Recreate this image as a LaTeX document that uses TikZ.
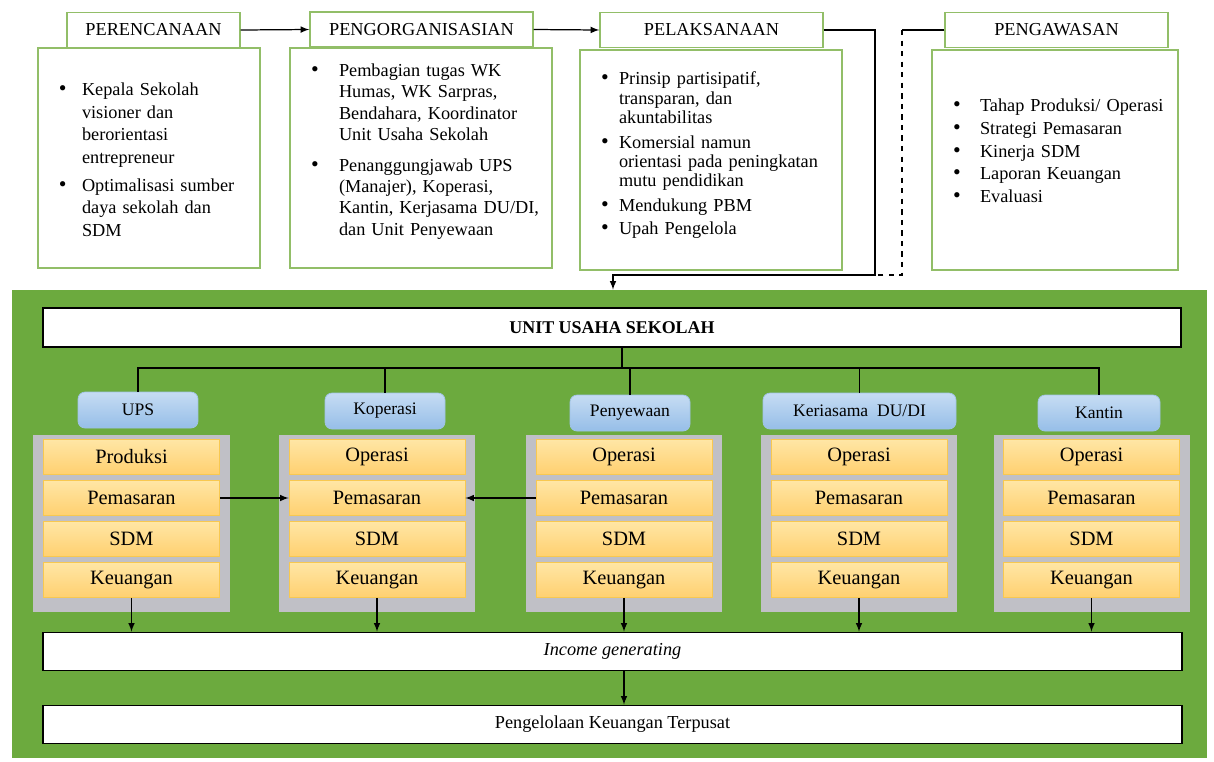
\documentclass[tikz,border=0pt]{standalone}
\usepackage{fontspec}
\setmainfont{Liberation Serif}

\definecolor{hijau}{RGB}{108,170,62}
\definecolor{garis}{RGB}{146,190,104}
\definecolor{biru1}{RGB}{198,220,243}
\definecolor{biru2}{RGB}{150,190,232}
\definecolor{birutepi}{RGB}{160,195,230}
\definecolor{abu}{RGB}{192,192,198}
\definecolor{jingga1}{RGB}{255,230,165}
\definecolor{jingga2}{RGB}{255,208,112}
\definecolor{jinggatepi}{RGB}{248,200,80}

% butir daftar: lebar kolom bullet, baris-baris teks
\newlength{\jarak}
\newcommand{\butir}[2][0.5cm]{\par\noindent\makebox[#1][l]{{\fontsize{12.5}{13}\selectfont\textbullet}}\begin{tabular}[t]{@{}l@{}}#2\end{tabular}\par\vspace{\jarak}}
% ruang kosong di bawah teks (menggeser teks ke atas)
\newcommand{\ganjal}[1]{\par\vspace{#1}\hrule height 0pt width 0pt}

\begin{document}
\begin{tikzpicture}[x=0.2mm,y=-0.2mm,
    judul/.style={draw=garis,line width=0.8pt,fill=white,minimum width=4.46cm,minimum height=0.7cm,inner sep=0pt,font=\fontsize{10.4}{12.8}\selectfont},
    isi/.style={draw=garis,line width=0.8pt,fill=white,minimum height=4.4cm,inner xsep=0.42cm},
    bidang/.style={draw,line width=1pt,fill=white,minimum width=22.78cm,minimum height=0.76cm,inner sep=0pt,font=\fontsize{10.4}{12.8}\selectfont},
    unit/.style={draw=birutepi,rounded corners=4pt,top color=biru1,bottom color=biru2,minimum width=2.4cm,minimum height=0.72cm,inner sep=0pt,font=\fontsize{10}{11}\selectfont},
    wadah/.style={fill=abu,minimum width=3.92cm,minimum height=3.54cm,inner sep=0pt},
    sel/.style={draw=jinggatepi,top color=jingga1,bottom color=jingga2,minimum width=3.52cm,minimum height=0.7cm,inner sep=0pt,font=\fontsize{11.6}{13}\selectfont},
    garis hitam/.style={line width=0.7pt},
    panah/.style={-latex,line width=0.7pt},
  ]
  \useasboundingbox (0,0) rectangle (1214,761);

  % fungsi manajemen
  \node[isi,minimum width=4.44cm,text width=3.6cm,font=\fontsize{10.4}{13}\selectfont] (rencana) at (149,158)
    {\setlength{\jarak}{1.5pt}\butir[0.46cm]{Kepala Sekolah\\visioner dan\\berorientasi\\entrepreneur}\butir[0.46cm]{Optimalisasi sumber\\daya sekolah dan\\SDM}};
  \node[isi,minimum width=5.24cm,text width=4.4cm,font=\fontsize{10.4}{12}\selectfont] (organisasi) at (421,158)
    {\setlength{\jarak}{5pt}\butir[0.56cm]{Pembagian tugas WK\\Humas, WK Sarpras,\\Bendahara, Koordinator\\Unit Usaha Sekolah}\butir[0.56cm]{Penanggungjawab UPS\\(Manajer), Koperasi,\\Kantin, Kerjasama DU/DI,\\dan Unit Penyewaan}\ganjal{5.7pt}};
  \node[isi,minimum width=5.24cm,text width=4.4cm,font=\fontsize{10.4}{11}\selectfont] (laksana) at (711,160)
    {\setlength{\jarak}{2pt}\butir[0.36cm]{Prinsip partisipatif,\\transparan, dan\\akuntabilitas}\butir[0.36cm]{Komersial namun\\orientasi pada peningkatan\\mutu pendidikan}\butir[0.36cm]{Mendukung PBM}\butir[0.36cm]{Upah Pengelola}\ganjal{6.3pt}};
  \node[isi,minimum width=4.92cm,text width=4.08cm,font=\fontsize{10.4}{13}\selectfont] (awas) at (1055,160)
    {\setlength{\jarak}{0pt}\butir[0.54cm]{Tahap Produksi/ Operasi}\butir[0.54cm]{Strategi Pemasaran}\butir[0.54cm]{Kinerja SDM}\butir[0.54cm]{Laporan Keuangan}\butir[0.54cm]{Evaluasi}\ganjal{12.5pt}};

  \node[judul,minimum width=3.46cm] (t1) at (153.5,30) {PERENCANAAN};
  \node[judul] (t2) at (421.5,29.5) {PENGORGANISASIAN};
  \node[judul] (t3) at (711.5,30) {PELAKSANAAN};
  \node[judul] (t4) at (1056.5,30) {PENGAWASAN};

  % latar hijau
  \node[fill=hijau,minimum width=23.9cm,minimum height=9.36cm,inner sep=0pt] (latar) at (609.5,524) {};

  \coordinate (temu) at (875,275);
  \coordinate (masuk) at (613,275);
  \coordinate (sudut) at (902,30);
  \draw[panah] (t1.east) -- (t2.west);
  \draw[panah] (t2.east) -- (t3.west);
  \draw[panah] (t3.east) -| (temu) -- (masuk) -- (masuk |- latar.north);
  \draw[garis hitam] (t4.west) -- (sudut);
  \draw[garis hitam,dashed] (sudut) |- (temu);

  \node[bidang,minimum width=22.76cm,minimum height=0.78cm,font=\fontsize{10.2}{12}\selectfont\bfseries] (usaha) at (612,327.5) {UNIT USAHA SEKOLAH};

  % unit usaha
  \foreach \n/\x/\a in {ups/131.5/Produksi,kop/377/Operasi,sewa/624/Operasi,dudi/859/Operasi,kantin/1091.5/Operasi}{
      \node[wadah] (w\n) at (\x,523.5) {};
      \node[sel] (\n1) at (\x,457) {\a};
      \node[sel] (\n2) at (\x,498) {Pemasaran};
      \node[sel] (\n3) at (\x,539) {SDM};
      \node[sel] (\n4) at (\x,580) {Keuangan};
    }

  \node[unit] (ups) at (138,410) {UPS};
  \node[unit] (kop) at (385,411) {Koperasi};
  \node[unit] (sewa) at (630,413) {Penyewaan};
  \node[unit,minimum width=3.86cm] (dudi) at (859.5,411) {Keriasama\ \ DU/DI};
  \node[unit,minimum width=2.44cm] (kantin) at (1099,413) {Kantin};

  \coordinate (bus) at (0,368);
  \coordinate (pusat) at (622,368);
  \draw[garis hitam] (pusat |- usaha.south) -- (pusat);
  \draw[garis hitam] (ups.north) |- (bus -| kantin.north) -- (kantin.north);
  \foreach \u in {kop,sewa,dudi}
    \draw[garis hitam] (\u.north) -- (\u.north |- bus);

  \draw[panah] (ups2.east) -- (kop2.west);
  \draw[panah] (sewa2.west) -- (kop2.east);

  % pendapatan
  \node[bidang,font=\fontsize{10.4}{12.8}\selectfont\itshape] (hasil) at (612.5,651.5) {Income generating};
  \node[bidang] (kelola) at (612.5,724.5) {Pengelolaan Keuangan Terpusat};

  \foreach \n in {ups,kop,sewa,dudi,kantin}
    \draw[panah] (\n4.south) -- (\n4.south |- hasil.north);
  \draw[panah] (hasil.south -| sewa4.south) -- (kelola.north -| sewa4.south);
\end{tikzpicture}
\end{document}
